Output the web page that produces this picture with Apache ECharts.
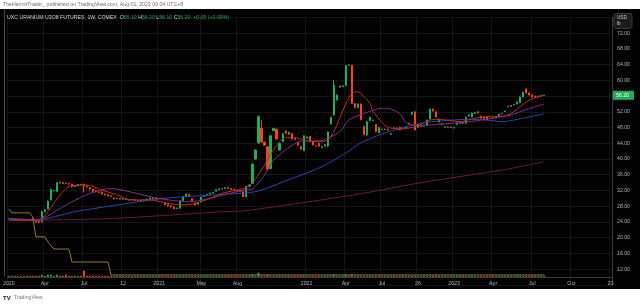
<!DOCTYPE html>
<html><head><meta charset="utf-8">
<script src="https://cdn.jsdelivr.net/npm/echarts@6/dist/echarts.min.js"></script>
<style>html,body{margin:0;padding:0;background:#fff}#c{width:640px;height:304px}</style>
</head><body><div id="c"></div><script>
const N_SLOTS = 201;
const xLabelIdx = [0,12,25,38,50,64,76,99,112,124,136,148,161,174,187,200];
const xLabelText = ['2020','Apr','Jul','12','2021','May','Aug','2022','Apr','Jul','26','2023','Apr','Jul','Oct','20'];
const yTickHidden = [8, 56, 76];

const opens = [
24.8,24.9,24.7,24.8,24.6,24.7,24.5,24.6,24.9,24.4,
24.1,24.0,26.6,27.3,29.6,31.9,31.7,34.1,34.0,33.9,
33.8,33.6,33.0,33.2,33.5,33.6,33.1,32.7,32.3,31.9,
31.6,31.6,31.1,30.9,30.6,30.1,29.9,30.0,29.8,29.9,
29.7,29.6,29.7,29.5,29.3,29.5,29.6,29.8,30.0,30.1,
29.9,30.0,28.9,28.4,28.1,27.8,27.4,27.5,29.5,30.6,
31.0,29.9,28.8,28.5,29.1,30.5,30.8,31.1,31.3,31.8,
32.2,32.4,32.5,32.7,32.5,32.3,32.1,32.0,31.7,30.4,
33.1,33.8,40.0,44.1,47.8,44.3,43.1,37.6,47.2,47.6,
42.3,44.4,47.1,46.3,46.5,45.2,44.2,43.1,42.1,45.3,
45.7,44.4,43.4,44.0,43.0,43.3,43.3,48.9,51.2,55.0,
58.3,58.4,58.7,63.8,63.8,54.1,53.1,54.0,48.3,46.1,
49.8,49.8,48.8,46.7,47.6,47.5,47.6,46.3,47.8,47.9,
48.1,47.8,48.0,49.1,51.4,52.0,48.1,48.5,48.4,48.6,
50.2,52.7,52.0,49.4,49.0,48.1,48.1,48.0,47.9,48.8,
49.1,49.3,49.1,50.9,50.7,51.6,52.0,50.9,50.6,50.7,
50.3,50.4,50.5,51.0,51.5,52.1,53.3,53.6,53.8,54.0,
54.3,55.8,57.8,56.8,56.3,56.0,55.8,56.0,56.1];
const closes = [
24.9,24.7,24.8,24.6,24.7,24.5,24.6,24.5,24.4,24.0,
23.9,26.6,27.1,29.3,32.3,32.0,34.0,33.9,33.8,33.8,
33.6,32.9,33.2,33.5,33.4,33.2,32.9,32.3,31.7,31.6,
31.5,31.1,30.9,30.6,30.4,29.9,30.0,29.8,29.9,29.7,
29.6,29.7,29.5,29.4,29.5,29.6,29.8,30.0,30.1,29.9,
30.0,29.9,28.4,28.1,27.8,27.3,27.5,29.4,30.4,31.1,
30.5,29.4,28.3,28.8,30.3,30.7,31.0,31.3,31.5,32.2,
32.4,32.5,32.7,32.5,32.3,32.1,32.0,31.8,30.4,33.0,
33.4,38.7,42.3,50.8,44.4,43.5,37.4,45.9,47.8,45.1,
44.0,46.4,46.5,46.8,45.1,45.0,43.5,42.5,45.9,45.6,
44.4,43.6,43.3,43.3,43.2,43.6,46.9,50.6,58.8,56.3,
58.5,58.6,63.7,63.9,54.1,53.1,54.0,50.0,46.2,49.5,
50.6,49.9,47.0,48.0,47.5,47.6,47.4,46.5,47.9,47.8,
47.4,48.0,48.1,48.9,51.9,47.4,48.8,48.3,48.5,49.9,
52.7,52.2,50.7,50.2,48.8,48.2,48.0,48.1,48.0,49.1,
49.2,49.1,50.7,51.2,51.7,51.8,51.7,50.4,50.3,49.9,
50.4,50.3,50.8,51.4,51.6,52.2,53.4,53.4,53.9,54.5,
55.8,57.0,56.8,56.3,55.8,55.8,56.0,56.15,56.2];
const lows = [
24.7,24.6,24.6,24.5,24.5,24.4,24.4,24.4,24.3,23.9,
23.8,23.9,26.5,27.2,29.5,31.8,31.6,33.8,33.7,33.7,
33.5,32.8,32.9,33.1,33.3,31.5,32.8,32.2,31.6,31.5,
31.4,31.0,30.8,30.5,30.3,29.8,29.8,29.7,29.7,29.6,
29.5,29.5,29.4,29.3,29.2,29.4,29.5,29.7,29.9,29.8,
29.8,29.8,28.3,28.0,27.7,27.2,27.3,27.4,29.4,30.5,
30.4,29.3,28.2,28.4,29.0,30.4,30.7,31.0,31.2,31.7,
32.1,32.3,32.4,32.4,32.2,32.0,31.9,31.7,30.3,30.3,
33.0,33.7,39.9,44.0,44.2,43.4,37.2,37.4,47.1,45.0,
42.2,44.3,46.4,46.2,45.0,44.9,43.4,42.4,42.0,45.2,
44.3,43.5,43.2,43.2,42.9,43.2,43.2,48.8,51.1,54.9,
58.2,58.3,58.6,63.7,54.0,53.0,53.0,49.9,46.1,46.0,
49.7,49.7,46.9,46.6,47.4,47.4,47.3,46.2,47.7,47.7,
47.3,47.7,47.9,48.8,51.3,47.3,48.0,48.2,48.3,48.5,
50.1,52.1,50.6,49.3,48.7,48.0,47.9,47.9,47.8,48.7,
49.0,49.0,49.0,50.8,50.6,51.5,51.6,50.3,50.2,49.8,
50.2,50.2,50.4,50.9,51.4,52.0,53.2,53.3,53.7,53.9,
54.2,55.7,56.7,56.2,55.7,55.7,55.7,55.9,56.1];
const highs = [
25.0,25.0,24.9,24.9,24.8,24.8,24.7,24.7,25.0,24.5,
24.2,26.7,27.2,29.4,32.4,32.1,34.1,34.2,34.1,34.0,
33.9,33.7,33.3,33.6,33.6,33.7,33.2,32.8,32.4,32.0,
31.7,31.7,31.2,31.0,30.7,30.2,30.1,30.1,30.0,30.0,
29.8,29.8,29.8,29.6,29.6,29.7,29.9,30.1,30.2,30.2,
30.1,30.1,29.0,28.5,28.2,27.9,27.6,29.5,30.5,31.2,
31.1,30.0,28.9,28.9,30.4,30.8,31.1,31.4,31.6,32.3,
32.5,32.6,32.8,32.8,32.6,32.4,32.2,32.1,31.8,33.1,
33.5,38.8,42.4,51.0,49.9,44.4,43.2,46.0,47.9,47.7,
44.1,46.5,47.2,46.9,46.6,45.3,44.3,43.2,46.0,45.7,
45.8,44.5,43.5,44.1,43.3,43.7,47.0,50.7,60.1,56.4,
58.6,58.7,63.9,64.0,63.9,54.2,54.1,54.1,48.4,49.6,
50.7,50.0,48.9,48.1,47.7,47.7,47.7,46.6,48.0,48.0,
48.2,48.1,48.2,49.2,52.0,52.1,48.9,48.6,48.6,50.0,
52.8,52.8,52.1,50.3,49.1,48.3,48.2,48.2,48.1,49.2,
49.3,49.4,50.8,51.3,51.8,51.9,52.1,51.0,50.7,50.8,
50.5,50.5,50.9,51.5,51.7,52.3,53.5,53.7,54.0,54.6,
55.9,57.1,58.0,56.9,56.4,56.1,56.1,56.2,56.2];
const volume = [
1,1,1,1,1,1,1,1,1,1,
1,2,1,2,2,1,2,1,1,2,
1,1,1,1,1,6,1,1,1,1,
1,1,1,1,1,1,1,1,1,1,
1,1,1,1,1,1,1,1,1,1,
1,1,1,1,1,1,1,1,1,1,
1,1,1,1,1,1,1,1,1,1,
1,1,1,1,1,1,1,1,1,1,
1,2,1,4,1,1,2,1,1,1,
1,1,1,1,1,1,1,1,1,1,
1,1,1,1,1,1,1,1,2,1,
1,1,2,1,2,1,1,1,1,1,
1,1,1,1,1,1,1,1,1,1,
1,1,1,1,1,1,1,1,1,1,
1,1,1,1,1,1,1,1,1,1,
1,1,1,1,1,1,1,1,1,1,
1,1,1,1,1,1,1,1,1,1,
1,1,1,1,1,1,1,1,1];
const maRed = [[0,24.4],[9,24.4],[11,24.7],[20,33.0],[26,33.4],[31,32.1],[37,30.6],[40,29.6],[47,29.6],[53,28.7],[58,28.3],[62,28.7],[67,30.0],[71,31.3],[78,32.5],[81,33.9],[84,37.2],[86,39.7],[88,42.3],[90,44.4],[92,45.5],[95,45.5],[98,44.8],[103,44.4],[106,44.8],[108,46.9],[110,50.4],[112,54.0],[114,56.7],[116,57.1],[117,56.7],[120,54.2],[121,52.2],[123,50.2],[125,48.6],[127,47.9],[130,47.6],[135,48.2],[139,49.5],[141,50.1],[146,49.9],[150,49.5],[155,50.4],[159,50.8],[164,50.9],[167,51.6],[170,53.3],[173,55.0],[178,56.3]];
const maPurple = [[0,24.7],[9,24.5],[20,28.7],[27,31.3],[34,32.5],[40,31.7],[47,30.4],[53,29.6],[60,29.1],[67,30.0],[71,30.8],[78,32.1],[81,32.4],[85,35.9],[88,39.7],[92,42.3],[95,43.9],[98,44.6],[103,44.6],[106,45.3],[110,46.9],[113,49.9],[118,51.6],[124,52.9],[127,52.7],[130,51.5],[132,49.3],[135,48.5],[141,48.7],[153,49.5],[161,50.4],[167,51.2],[172,52.6],[178,54.0]];
const maBlue = [[0,24.9],[9,24.5],[22,26.6],[36,28.3],[53,30.1],[71,31.0],[82,31.7],[93,34.7],[104,38.0],[112,41.5],[117,44.1],[126,46.9],[137,49.1],[141,49.5],[153,50.1],[159,49.9],[164,49.5],[169,50.1],[178,51.5]];
const maMaroon = [[0,24.3],[35,24.9],[71,26.6],[78,26.8],[104,29.6],[121,31.7],[137,34.0],[164,37.2],[178,39.3]];
const olive = [[0,27.3],[1,26.3],[7,26.3],[8,25.2],[9,20.2],[12,20.2],[13,18.9],[15,17.1],[20,17.1],[21,13.8],[33,13.8],[34,10.5],[178,10.5]];

const GREEN = '#1fae5c', RED = '#ff4316';
const FONT = 'Liberation Sans';
const categories = Array.from({length: N_SLOTS}, (_, i) => {
  const k = xLabelIdx.indexOf(i); return k >= 0 ? xLabelText[k] : '';
});
const ohlc = opens.map((o, i) => [o, closes[i], lows[i], highs[i]]);
const lastClose = closes[closes.length - 1];

const chart = echarts.init(document.getElementById('c'), null, {renderer: 'canvas', width: 640, height: 304});
function maSeries(data, color) {
  return {type: 'line', data: data, xAxisIndex: 0, yAxisIndex: 0, showSymbol: false, symbol: 'none',
    smooth: 0.25, lineStyle: {color: color, width: 1}, z: 3, silent: true};
}
chart.setOption({
  animation: false,
  backgroundColor: '#ffffff',
  grid: {left: 4, right: 28, top: 17.5, bottom: 19.2, containLabel: false},
  xAxis: {
    type: 'category', data: categories, boundaryGap: true, offset: -8,
    axisLine: {show: true, lineStyle: {color: '#3c3c3c', width: 1}},
    axisTick: {show: false},
    axisLabel: {interval: 0, color: '#b2b5be', fontSize: 5.2, fontFamily: FONT, margin: 4},
    splitLine: {show: true, interval: (i) => categories[i] !== '', lineStyle: {color: '#141414', width: 1}}
  },
  yAxis: [{
    type: 'value', position: 'right', min: 8, max: 76, interval: 4,
    axisLine: {show: true, lineStyle: {color: '#3c3c3c', width: 1}},
    axisTick: {show: false},
    axisLabel: {color: '#b2b5be', fontSize: 5.2, fontFamily: FONT, margin: 5,
      formatter: (v) => yTickHidden.indexOf(v) >= 0 ? '' : v.toFixed(2)},
    splitLine: {show: true, lineStyle: {color: '#141414', width: 1}}
  }, {
    type: 'value', min: -8, max: 259, show: false, splitLine: {show: false}
  }],
  series: [
    {type: 'bar', yAxisIndex: 1, data: volume, barWidth: 2, silent: true, z: 1,
      itemStyle: {color: (p) => closes[p.dataIndex] >= opens[p.dataIndex] ? GREEN : RED}},
    {type: 'candlestick', data: ohlc, barWidth: 1.6, z: 2, silent: true,
      itemStyle: {color: GREEN, color0: RED, borderColor: GREEN, borderColor0: RED, borderWidth: 1}},
    maSeries(maMaroon, '#6e1c28'),
    maSeries(maBlue, '#2a46b2'),
    maSeries(maPurple, '#7c2f8f'),
    maSeries(maRed, '#c42e1e'),
    {type: 'line', data: olive, showSymbol: false, symbol: 'none', lineStyle: {color: '#8f7d20', width: 1}, z: 3, silent: true}
  ],
  graphic: [
    {type: 'rect', id: 'bg', shape: {x: 0, y: 9, width: 640, height: 280}, style: {fill: '#000000'}, z: -10, silent: true},
    {type: 'line', id: 'lborder', shape: {x1: 4.5, y1: 9, x2: 4.5, y2: 277}, style: {stroke: '#4a4a4a', lineWidth: 1}, z: 50, silent: true},
    {type: 'text', id: 'cap', x: 3, y: 5, z: 50, silent: true,
      style: {text: 'TheHermitTrader_ published on TradingView.com, Aug 01, 2023 00:04 UTC+8', fill: '#6a6d78', fontSize: 5.2, fontFamily: FONT, verticalAlign: 'middle'}},
    {type: 'text', id: 'hdr', x: 7, y: 18, z: 50, silent: true,
      style: {text: '{w|UXC URANIUM U3O8 FUTURES, 1W, COMEX  O}{g|56.10}{w| H}{g|56.20}{w| L}{g|56.10}{w| C}{g|56.20}{g|  +0.05 (+0.09%)}',
        verticalAlign: 'middle',
        rich: {w: {fill: '#d1d4dc', fontSize: 5.2, fontFamily: FONT}, g: {fill: GREEN, fontSize: 5.2, fontFamily: FONT}}}},
    {type: 'rect', id: 'usdbox', shape: {x: 614, y: 13.5, width: 18, height: 15, r: 2}, style: {fill: '#1c1c1f', stroke: '#3a3a3e', lineWidth: 1}, z: 60, silent: true},
    {type: 'text', id: 'usd', x: 617, y: 21, z: 61, silent: true,
      style: {text: 'USD\nlb', fill: '#d1d4dc', fontSize: 4.6, fontFamily: FONT, verticalAlign: 'middle', lineHeight: 6}},
    {type: 'text', id: 'tvlogo', x: 3, y: 298, z: 50, silent: true,
      style: {text: '{b|TV} {t|TradingView}', verticalAlign: 'middle',
        rich: {b: {fill: '#131722', fontSize: 6, fontWeight: 'bold', fontFamily: FONT}, t: {fill: '#787b86', fontSize: 5.2, fontFamily: FONT}}}}
  ]
});
const py = chart.convertToPixel({yAxisIndex: 0}, lastClose);
chart.setOption({graphic: [
  {type: 'rect', id: 'ptag', shape: {x: 613, y: py - 4.5, width: 21, height: 9}, style: {fill: GREEN}, z: 60, silent: true},
  {type: 'text', id: 'ptagt', x: 616, y: py, z: 61, silent: true,
    style: {text: lastClose.toFixed(2), fill: '#ffffff', fontSize: 5.2, fontFamily: FONT, verticalAlign: 'middle'}}
]});
</script></body></html>
